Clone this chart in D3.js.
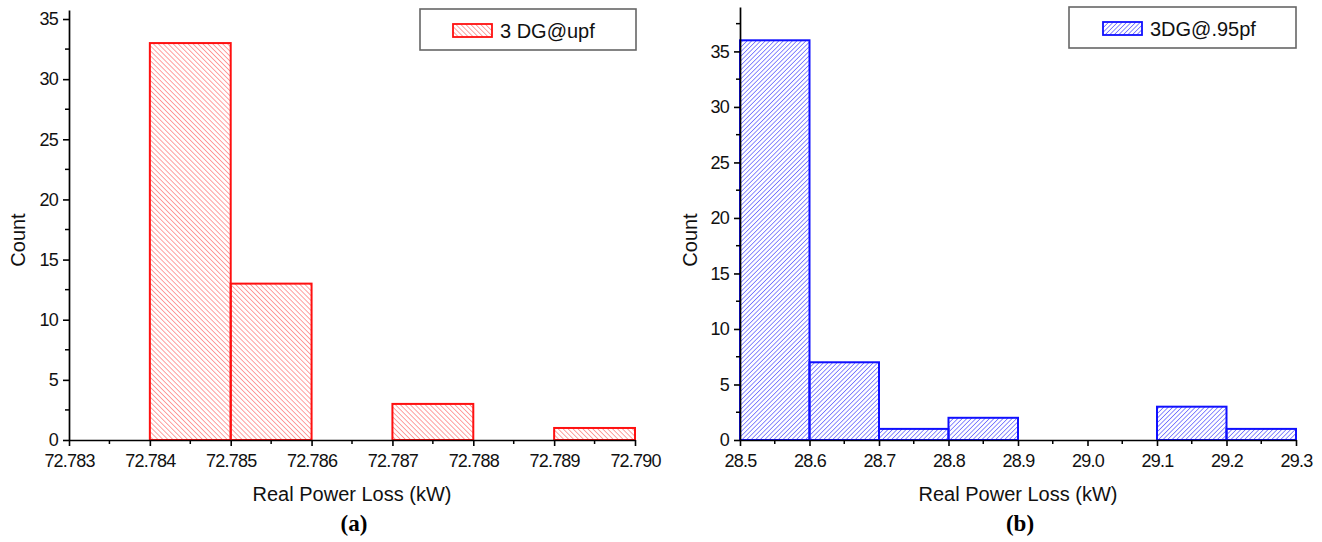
<!DOCTYPE html>
<html>
<head>
<meta charset="utf-8">
<script src="https://cdn.jsdelivr.net/npm/d3@7"></script>
<style>
  body { margin: 0; background: #fff; }
  svg { display: block; }
</style>
</head>
<body>
<div id="chart"></div>
<script>
// panel (a): 3 DG@upf
const binStartA = [72.784, 72.785, 72.787, 72.789];
const binEndA = [72.785, 72.786, 72.788, 72.790];
const countA = [33, 13, 3, 1];
const xTicksA = [72.783, 72.784, 72.785, 72.786, 72.787, 72.788, 72.789, 72.79];

// panel (b): 3DG@.95pf
const binStartB = [28.5, 28.6, 28.7, 28.8, 29.1, 29.2];
const binEndB = [28.6, 28.7, 28.8, 28.9, 29.2, 29.3];
const countB = [36, 7, 1, 2, 3, 1];
const xTicksB = [28.5, 28.6, 28.7, 28.8, 28.9, 29.0, 29.1, 29.2, 29.3];

const yTicks = [0, 5, 10, 15, 20, 25, 30, 35];

const width = 1322;
const height = 542;
const sans = "'Liberation Sans', Arial, sans-serif";

const svg = d3
  .select("#chart")
  .append("svg")
  .attr("width", width)
  .attr("height", height)
  .style("font-family", sans);

const defs = svg.append("defs");

// hatch patterns
function makeHatch(id, color, size, dir) {
  const p = defs
    .append("pattern")
    .attr("id", id)
    .attr("patternUnits", "userSpaceOnUse")
    .attr("width", size)
    .attr("height", size)
    .attr("patternTransform", `rotate(${dir})`);
  p.append("line")
    .attr("x1", 0)
    .attr("y1", 0)
    .attr("x2", 0)
    .attr("y2", size)
    .attr("stroke", color)
    .attr("stroke-width", 1.3);
}
makeHatch("hatchA", "#ff6e6e", 3.5, -45);
makeHatch("hatchB", "#4f4fff", 3.2, 45);

/**
 * draws one histogram panel
 */
function drawPanel(cfg) {
  const g = svg.append("g");

  const x = d3.scaleLinear().domain(cfg.xDomain).range(cfg.xRange);
  const y = d3.scaleLinear().domain(cfg.yDomain).range([cfg.y0, cfg.yTop]);

  const bins = cfg.starts.map((s, i) => ({
    x0: s,
    x1: cfg.ends[i],
    count: cfg.counts[i],
  }));

  g.selectAll(".bar")
    .data(bins)
    .enter()
    .append("rect")
    .attr("x", (d) => x(d.x0))
    .attr("y", (d) => y(d.count))
    .attr("width", (d) => x(d.x1) - x(d.x0))
    .attr("height", (d) => y(0) - y(d.count))
    .attr("fill", `url(#${cfg.hatch})`)
    .attr("stroke", cfg.color)
    .attr("stroke-width", 2);

  // y axis
  const yAxis = d3
    .axisLeft(y)
    .tickValues(yTicks)
    .tickSize(6)
    .tickSizeOuter(0)
    .tickPadding(5);
  const yg = g
    .append("g")
    .attr("transform", `translate(${cfg.xRange[0]},0)`)
    .call(yAxis);
  const yMinor = d3.range(2.5, cfg.yDomain[1], 5);
  yg.selectAll(".minor")
    .data(yMinor)
    .enter()
    .append("line")
    .attr("x1", -4)
    .attr("x2", 0)
    .attr("y1", (d) => y(d))
    .attr("y2", (d) => y(d))
    .attr("stroke", "#000")
    .attr("stroke-width", 1.5);

  // x axis
  const xAxis = d3
    .axisBottom(x)
    .tickValues(cfg.xTicks)
    .tickFormat(d3.format(cfg.fmt))
    .tickSize(6)
    .tickSizeOuter(0)
    .tickPadding(8);
  const xg = g
    .append("g")
    .attr("transform", `translate(0,${cfg.y0})`)
    .call(xAxis);
  const xMinor = cfg.xTicks.slice(0, -1).map((t, i) => (t + cfg.xTicks[i + 1]) / 2);
  xg.selectAll(".minor")
    .data(xMinor)
    .enter()
    .append("line")
    .attr("x1", (d) => x(d))
    .attr("x2", (d) => x(d))
    .attr("y1", 0)
    .attr("y2", 4)
    .attr("stroke", "#000")
    .attr("stroke-width", 1.5);

  [yg, xg].forEach((ag) => {
    ag.select(".domain").attr("stroke-width", 1.7);
    ag.selectAll(".tick line").attr("stroke-width", 1.6);
    ag.selectAll(".tick text")
      .style("font-family", sans)
      .style("font-size", "18px")
      .style("letter-spacing", "-0.8px")
      .attr("fill", "#111");
  });

  // axis titles
  g.append("text")
    .attr("transform", `translate(${cfg.countX},240) rotate(-90)`)
    .attr("text-anchor", "middle")
    .style("font-size", "20px")
    .attr("fill", "#111")
    .text("Count");

  const midX = (cfg.xRange[0] + cfg.xRange[1]) / 2;
  g.append("text")
    .attr("x", midX)
    .attr("y", 501)
    .attr("text-anchor", "middle")
    .style("font-size", "20px")
    .attr("fill", "#111")
    .text("Real Power Loss (kW)");

  g.append("text")
    .attr("x", midX + 2)
    .attr("y", 531)
    .attr("text-anchor", "middle")
    .style("font-family", "'Liberation Serif', 'Times New Roman', serif")
    .style("font-weight", "bold")
    .style("font-size", "23px")
    .text(cfg.panel);

  // legend
  const lg = g.append("g").attr("transform", `translate(${cfg.legend.x},${cfg.legend.y})`);
  lg.append("rect")
    .attr("width", cfg.legend.w)
    .attr("height", 41)
    .attr("fill", "#fff")
    .attr("stroke", "#666")
    .attr("stroke-width", 1.6);
  lg.append("rect")
    .attr("x", cfg.legend.sx)
    .attr("y", 15)
    .attr("width", 39)
    .attr("height", 13)
    .attr("fill", `url(#${cfg.hatch})`)
    .attr("stroke", cfg.color)
    .attr("stroke-width", 1.8);
  lg.append("text")
    .attr("x", cfg.legend.sx + 47)
    .attr("y", 29)
    .style("font-size", "20px")
    .attr("fill", "#111")
    .text(cfg.label);
}

drawPanel({
  starts: binStartA,
  ends: binEndA,
  counts: countA,
  xTicks: xTicksA,
  xDomain: [72.783, 72.79],
  xRange: [69, 635],
  yDomain: [0, 35.75],
  y0: 440,
  yTop: 10,
  fmt: ".3f",
  hatch: "hatchA",
  color: "#ff1010",
  label: "3 DG@upf",
  panel: "(a)",
  countX: 25,
  legend: { x: 420, y: 9, w: 216, sx: 33 },
});

drawPanel({
  starts: binStartB,
  ends: binEndB,
  counts: countB,
  xTicks: xTicksB,
  xDomain: [28.5, 29.3],
  xRange: [740, 1296],
  yDomain: [0, 39],
  y0: 440,
  yTop: 7,
  fmt: ".1f",
  hatch: "hatchB",
  color: "#1010ff",
  label: "3DG@.95pf",
  panel: "(b)",
  countX: 697,
  legend: { x: 1069, y: 7, w: 227, sx: 34 },
});
</script>
</body>
</html>
